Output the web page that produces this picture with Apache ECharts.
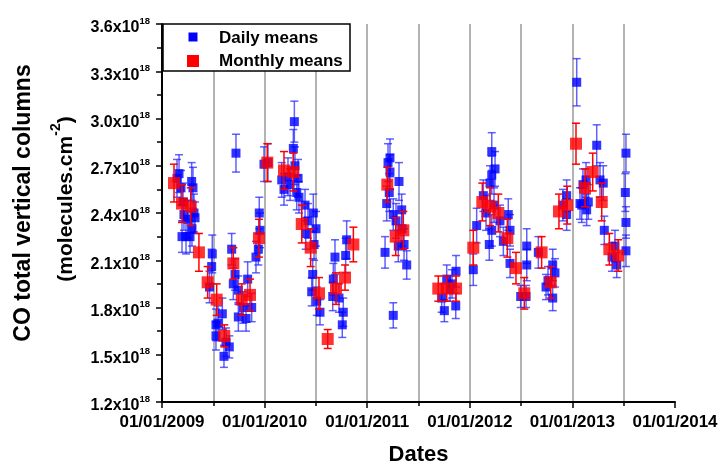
<!DOCTYPE html>
<html><head><meta charset="utf-8">
<script src="https://cdn.jsdelivr.net/npm/echarts@6/dist/echarts.min.js"></script>
<style>html,body{margin:0;padding:0;background:#fff}#c{width:720px;height:466px}</style>
</head><body><div id="c"></div>
<script>
// Dates as decimal years; values in units of 1e18 molecules/cm2
const dailyX = [2009.146,2009.166,2009.185,2009.205,2009.214,2009.195,2009.234,2009.253,2009.273,2009.289,2009.302,2009.312,2009.322,2009.292,
2009.463,2009.484,2009.490,2009.526,2009.526,2009.546,2009.588,2009.604,2009.624,2009.656,2009.679,2009.695,2009.712,2009.721,2009.744,2009.744,
2009.792,2009.819,2009.835,2009.874,2009.916,2009.939,2009.948,2009.955,2009.994,2010.033,2010.167,2010.189,2010.228,2010.248,2010.280,2010.290,
2010.296,2010.313,2010.326,2010.335,2010.394,2010.401,2010.423,2010.459,2010.469,2010.475,2010.482,2010.501,2010.508,2010.540,2010.664,2010.670,
2010.686,2010.725,2010.757,2010.767,2010.790,2010.800,2011.174,2011.190,2011.203,2011.215,2011.222,2011.222,2011.254,2011.254,2011.281,2011.303,
2011.310,2011.336,2011.339,2011.359,2011.385,2011.726,2011.752,2011.775,2011.807,2011.827,2011.863,2011.866,2012.034,2012.067,2012.132,2012.158,
2012.190,2012.197,2012.214,2012.214,2012.214,2012.236,2012.246,2012.294,2012.327,2012.375,2012.392,2012.392,2012.496,2012.548,2012.555,2012.555,
2012.668,2012.743,2012.762,2012.808,2012.830,2012.808,2012.908,2012.944,2012.944,2013.042,2013.074,2013.091,2013.103,2013.133,2013.139,2013.155,
2013.237,2013.269,2013.301,2013.311,2013.386,2013.415,2013.432,2013.516,2013.522,2013.522,2013.522];
const dailyY = [2.62,2.65,2.56,2.47,2.39,2.25,2.25,2.36,2.25,2.60,2.56,2.40,2.37,2.30,
1.93,2.06,2.14,1.69,1.62,1.70,1.76,1.49,1.58,1.55,2.17,1.95,2.01,2.78,1.91,1.74,
1.80,1.73,1.98,1.80,2.12,2.17,2.40,2.29,2.71,2.72,2.61,2.55,2.63,2.58,2.81,2.98,
2.70,2.53,2.62,2.50,2.45,2.27,2.35,1.90,2.01,2.40,2.20,2.30,1.84,1.77,1.87,1.98,
2.12,1.86,1.69,1.77,2.13,2.23,2.15,2.46,2.72,2.53,2.75,2.66,2.39,1.75,2.35,2.19,
2.60,2.42,2.30,2.20,2.07,1.86,1.78,1.98,1.92,1.95,1.81,2.03,2.04,2.32,2.51,2.40,
2.20,2.59,2.64,2.79,2.29,2.45,2.68,2.35,2.22,2.39,2.29,2.08,1.87,1.87,2.19,2.07,
2.15,1.93,1.97,2.07,2.02,1.86,2.45,2.51,2.39,3.23,2.46,2.45,2.58,2.61,2.42,2.47,
2.83,2.61,2.59,2.29,2.12,2.19,2.07,2.53,2.78,2.34,2.16];
const dailyErr = [0.12,0.12,0.11,0.12,0.10,0.10,0.11,0.12,0.10,0.12,0.13,0.12,0.10,0.11,
0.10,0.11,0.12,0.10,0.09,0.11,0.10,0.07,0.09,0.07,0.10,0.10,0.10,0.12,0.09,0.09,
0.10,0.08,0.11,0.09,0.10,0.10,0.10,0.11,0.11,0.12,0.11,0.10,0.12,0.10,0.12,0.13,
0.12,0.11,0.12,0.10,0.10,0.10,0.11,0.09,0.10,0.12,0.10,0.11,0.09,0.08,0.09,0.10,
0.11,0.09,0.08,0.09,0.11,0.12,0.10,0.11,0.12,0.12,0.12,0.11,0.10,0.08,0.11,0.10,
0.12,0.10,0.11,0.10,0.09,0.09,0.07,0.09,0.08,0.09,0.08,0.10,0.10,0.11,0.10,0.11,
0.10,0.11,0.12,0.12,0.10,0.11,0.11,0.10,0.09,0.10,0.10,0.09,0.07,0.07,0.11,0.10,
0.10,0.08,0.09,0.10,0.09,0.08,0.10,0.10,0.10,0.15,0.10,0.11,0.10,0.11,0.10,0.11,
0.13,0.11,0.11,0.09,0.09,0.10,0.08,0.12,0.12,0.10,0.10];

const monthlyX = [2009.117,2009.195,2009.280,2009.360,2009.445,2009.533,2009.607,2009.695,2009.777,2009.858,2009.945,
2010.026,2010.189,2010.280,2010.362,2010.449,2010.530,2010.615,2010.696,2010.784,2010.865,
2011.196,2011.278,2011.352,2011.693,2011.775,2011.866,
2012.034,2012.122,2012.197,2012.278,2012.366,2012.450,2012.531,2012.700,2012.789,2012.869,2012.950,
2013.035,2013.123,2013.198,2013.286,2013.360,2013.447];
const monthlyY = [2.59,2.46,2.44,2.15,1.96,1.85,1.62,2.08,1.85,1.88,2.24,
2.72,2.67,2.66,2.33,2.18,1.89,1.60,1.92,1.99,2.20,
2.58,2.25,2.29,1.92,1.92,1.92,
2.18,2.47,2.44,2.40,2.24,2.05,1.89,2.15,1.96,2.41,2.45,
2.84,2.56,2.66,2.47,2.17,2.13];
const monthlyErr = [0.12,0.12,0.12,0.12,0.10,0.10,0.07,0.10,0.10,0.10,0.12,
0.12,0.12,0.12,0.12,0.12,0.10,0.06,0.10,0.08,0.11,
0.11,0.12,0.12,0.08,0.08,0.08,
0.11,0.12,0.12,0.12,0.12,0.10,0.10,0.10,0.10,0.11,0.12,
0.13,0.12,0.12,0.12,0.10,0.10];

const yearTicks = [2009, 2010, 2011, 2012, 2013, 2014];
const FONT = '"Liberation Sans", Arial, sans-serif';

function errBar(color, capW) {
  return function (params, api) {
    const x = api.value(0), y = api.value(1), e = api.value(2);
    const t = api.coord([x, y + e]), b = api.coord([x, y - e]);
    const h = capW / 2;
    const st = { stroke: color, lineWidth: 1.5 };
    return { type: 'group', children: [
      { type: 'line', shape: { x1: t[0], y1: t[1], x2: b[0], y2: b[1] }, style: st },
      { type: 'line', shape: { x1: t[0] - h, y1: t[1], x2: t[0] + h, y2: t[1] }, style: st },
      { type: 'line', shape: { x1: b[0] - h, y1: b[1], x2: b[0] + h, y2: b[1] }, style: st }
    ]};
  };
}

const daily = dailyX.map((x, i) => [x, dailyY[i], dailyErr[i]]);
const monthly = monthlyX.map((x, i) => [x, monthlyY[i], monthlyErr[i]]);

const chart = echarts.init(document.getElementById('c'), null, { renderer: 'canvas' });
chart.setOption({
  animation: false,
  backgroundColor: '#fff',
  grid: { left: 162, right: 45, top: 24, bottom: 64, containLabel: false, outerBoundsMode: 'none' },
  xAxis: {
    type: 'value', min: 2009, max: 2014, interval: 1,
    axisLine: { show: true, onZero: false, lineStyle: { color: '#000', width: 2 } },
    axisTick: { show: true, length: 6, lineStyle: { color: '#000', width: 1.5 } },
    minorTick: { show: true, splitNumber: 2, length: 4, lineStyle: { color: '#000', width: 1.5 } },
    splitLine: { show: true, showMinLine: false, showMaxLine: false, lineStyle: { color: '#9a9a9a', width: 1.5 } },
    minorSplitLine: { show: true, lineStyle: { color: '#9a9a9a', width: 1.5 } },
    axisLabel: { formatter: v => '01/01/' + Math.round(v), fontSize: 17, fontWeight: 'bold', color: '#000', margin: 12, fontFamily: FONT },
    name: 'Dates', nameLocation: 'middle', nameGap: 42,
    nameTextStyle: { fontSize: 22, fontWeight: 'bold', color: '#000', fontFamily: FONT }
  },
  yAxis: {
    type: 'value', min: 1.2, max: 3.6, interval: 0.3,
    axisLine: { show: true, onZero: false, lineStyle: { color: '#000', width: 2 } },
    axisTick: { show: true, length: 6, lineStyle: { color: '#000', width: 1.5 } },
    minorTick: { show: true, splitNumber: 2, length: 5, lineStyle: { color: '#000', width: 1.5 } },
    splitLine: { show: false },
    axisLabel: {
      margin: 12, padding: [4, 0, 0, 0],
      formatter: v => '{a|' + v.toFixed(1) + 'x10}{b|18}',
      rich: {
        a: { fontSize: 16, fontWeight: 'bold', color: '#000', fontFamily: FONT, lineHeight: 20, verticalAlign: 'bottom' },
        b: { fontSize: 9.5, fontWeight: 'bold', color: '#000', fontFamily: FONT, lineHeight: 8, verticalAlign: 'top' }
      }
    }
  },
  series: [
    { name: 'dailyErr', type: 'custom', data: daily, renderItem: errBar('rgba(30,30,255,0.7)', 8), encode: { x: 0, y: 1 }, z: 2 },
    { name: 'Daily means', type: 'scatter', data: daily, symbol: 'rect', symbolSize: 9, itemStyle: { color: '#0000ff' }, z: 3 },
    { name: 'monthlyErr', type: 'custom', data: monthly, renderItem: errBar('#ff0000', 8), encode: { x: 0, y: 1 }, z: 4 },
    { name: 'Monthly means', type: 'scatter', data: monthly, symbol: 'rect', symbolSize: 12, itemStyle: { color: '#ff0000' }, z: 5 }
  ],
  graphic: [
    { type: 'rect', z: 100, shape: { x: 163, y: 24, width: 187, height: 47 }, style: { fill: '#fff', stroke: '#000', lineWidth: 1.5 } },
    { type: 'rect', z: 101, shape: { x: 188.5, y: 32.5, width: 9, height: 9 }, style: { fill: '#0000ff' } },
    { type: 'rect', z: 101, shape: { x: 187, y: 55, width: 12, height: 12 }, style: { fill: '#ff0000' } },
    { type: 'text', z: 101, x: 219, y: 38, style: { text: 'Daily means', fill: '#000', font: 'bold 17px ' + FONT, verticalAlign: 'middle' } },
    { type: 'text', z: 101, x: 219, y: 61, style: { text: 'Monthly means', fill: '#000', font: 'bold 17px ' + FONT, verticalAlign: 'middle' } },
    { type: 'text', z: 101, x: 24, y: 203, rotation: Math.PI / 2,
      style: { text: 'CO total vertical columns', fill: '#000', font: 'bold 23px ' + FONT, align: 'center', verticalAlign: 'middle' } },
    { type: 'text', z: 101, x: 63, y: 199, rotation: Math.PI / 2,
      style: { text: '{a|(molecules.cm}{b|-2}{a|)}', align: 'center', verticalAlign: 'middle',
        rich: {
          a: { fontSize: 21, fontWeight: 'bold', fill: '#000', fontFamily: FONT, lineHeight: 28, verticalAlign: 'bottom' },
          b: { fontSize: 14, fontWeight: 'bold', fill: '#000', fontFamily: FONT, lineHeight: 14, verticalAlign: 'top' }
        } } }
  ]
});
</script></body></html>
